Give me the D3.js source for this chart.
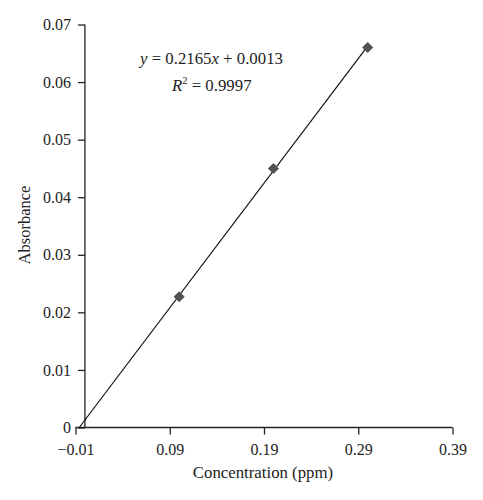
<!DOCTYPE html>
<html>
<head>
  <meta charset="utf-8">
  <title>Calibration curve</title>
  <style>
    html, body { margin: 0; padding: 0; background: #fff; }
    svg text { font-family: "Liberation Serif", "DejaVu Serif", serif; fill: #222; }
  </style>
  <script src="https://cdn.jsdelivr.net/npm/d3@7"></script>
</head>
<body>
<svg id="chart" width="483" height="500"></svg>
<script>

  // measured standards
  var concentration = [0.1, 0.2, 0.3];
  var absorbance = [0.0227, 0.045, 0.066];

  // fitted line, as printed on the chart
  var slope = 0.2165, intercept = 0.0013;
  var fitText = "0.2165", interceptText = "0.0013", r2Text = "0.9997";

  var xTicks = [-0.01, 0.09, 0.19, 0.29, 0.39];
  var yTicks = [0, 0.01, 0.02, 0.03, 0.04, 0.05, 0.06, 0.07];

  var svg = d3.select("#chart");

  // plot area in pixels (note: "top" is taken by window.top)
  var plotLeft = 75.5, plotRight = 452.5, plotTop = 24.5, plotBottom = 427.5;

  var x = d3.scaleLinear().domain([-0.01, 0.39]).range([plotLeft, plotRight]);
  var y = d3.scaleLinear().domain([0, 0.07]).range([plotBottom, plotTop]);

  // x axis along y = 0
  var xAxis = d3.axisBottom(x)
    .tickValues(xTicks)
    .tickSize(7)
    .tickFormat(function (d) { return d < 0 ? "\u22120.01" : d3.format(".2f")(d); });
  var gx = svg.append("g").attr("transform", "translate(0," + y(0) + ")").call(xAxis);

  // y axis sits at x = 0
  var yAxis = d3.axisLeft(y)
    .tickValues(yTicks)
    .tickSize(7)
    .tickFormat(function (d) { return d === 0 ? "0" : d3.format(".2f")(d); });
  var gy = svg.append("g").attr("transform", "translate(" + x(0) + ",0)").call(yAxis);

  [gx, gy].forEach(function (g) {
    g.attr("font-size", 16).attr("font-family", "Liberation Serif, DejaVu Serif, serif");
    g.select(".domain").attr("stroke", "#222").attr("stroke-width", 1.3);
    g.selectAll(".tick line").attr("stroke", "#222").attr("stroke-width", 1.3);
    g.selectAll(".tick text").attr("fill", "#222");
  });
  gx.select(".domain").attr("d", "M" + plotLeft + ",0H" + plotRight);
  gx.selectAll(".tick text").attr("y", 16).attr("dy", "0.71em");
  gy.select(".domain").attr("d", "M0," + plotTop + "V" + plotBottom);
  gy.selectAll(".tick text").attr("x", -14);

  // trend line from where it crosses y = 0 up to the last standard
  var x0 = -intercept / slope, x1 = d3.max(concentration);
  svg.append("line")
    .attr("x1", x(x0)).attr("y1", y(0))
    .attr("x2", x(x1)).attr("y2", y(slope * x1 + intercept))
    .attr("stroke", "#111")
    .attr("stroke-width", 1.2);

  // diamond markers
  svg.selectAll("path.pt")
    .data(concentration.map(function (c, i) { return [c, absorbance[i]]; }))
    .enter()
    .append("path")
    .attr("class", "pt")
    .attr("d", d3.symbol().type(d3.symbolDiamond2).size(78))
    .attr("transform", function (d) { return "translate(" + x(d[0]) + "," + y(d[1]) + ")"; })
    .attr("fill", "#525252");

  // equation
  var eq = svg.append("text").attr("x", 140).attr("y", 64).attr("font-size", 16.8);
  eq.append("tspan").attr("font-style", "italic").text("y");
  eq.append("tspan").text(" = " + fitText);
  eq.append("tspan").attr("font-style", "italic").text("x");
  eq.append("tspan").text(" + " + interceptText);

  var r2 = svg.append("text").attr("x", 172).attr("y", 91).attr("font-size", 16.8);
  r2.append("tspan").attr("font-style", "italic").text("R");
  r2.append("tspan").attr("font-size", 10.5).attr("dy", -7).text("2");
  r2.append("tspan").attr("dy", 7).text(" = " + r2Text);

  // axis titles
  svg.append("text")
    .attr("x", 263).attr("y", 478)
    .attr("text-anchor", "middle")
    .attr("font-size", 16.8)
    .text("Concentration (ppm)");

  svg.append("text")
    .attr("transform", "translate(30," + 225 + ") rotate(-90)")
    .attr("text-anchor", "middle")
    .attr("font-size", 16.5)
    .text("Absorbance");

</script>
</body>
</html>
